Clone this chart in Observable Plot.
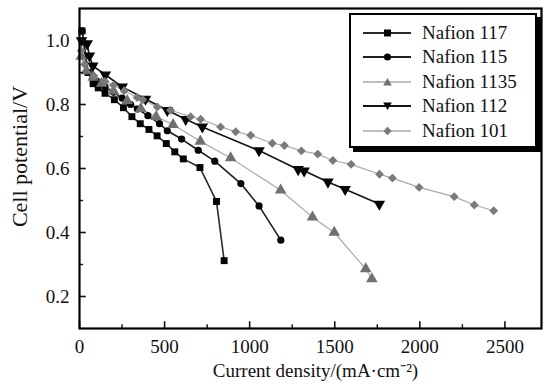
<!DOCTYPE html>
<html>
<head>
<meta charset="utf-8">
<script src="https://cdn.jsdelivr.net/npm/d3@7"></script>
<script src="https://cdn.jsdelivr.net/npm/@observablehq/plot@0.6"></script>
<style>
  body { margin: 0; background: #fff; }
  #wrap { position: relative; width: 545px; height: 386px; font-family: 'Liberation Serif', serif; }
  #wrap svg text { font-family: 'Liberation Serif', serif; }
  #legend { position: absolute; left: 349px; top: 13px; width: 184px; height: 131px; border: 2px solid #000; box-shadow: 4px 4px 0 #000; background: #fff; }
  .row { position: absolute; left: 0; height: 20px; display: flex; align-items: center; }
  .row svg { margin-left: 12px; }
  .row span { margin-left: 11px; font-size: 19px; color: #111; white-space: nowrap; font-family: 'Liberation Serif', serif; }
</style>
</head>
<body>
<div id="wrap"></div>
<script>
// ---- data ----
const seriesNames = ["Nafion 117", "Nafion 115", "Nafion 1135", "Nafion 112", "Nafion 101"];

const n117x = [15, 50, 80, 110, 150, 205, 258, 308, 357, 408, 456, 510, 560, 610, 708, 805, 850];
const n117y = [1.03, 0.90, 0.865, 0.852, 0.835, 0.815, 0.79, 0.762, 0.74, 0.722, 0.702, 0.678, 0.652, 0.63, 0.603, 0.497, 0.312];

const n115x = [15, 50, 100, 150, 200, 250, 300, 340, 402, 470, 516, 600, 698, 795, 948, 1055, 1183];
const n115y = [1.03, 0.90, 0.872, 0.855, 0.838, 0.82, 0.80, 0.786, 0.765, 0.74, 0.718, 0.692, 0.657, 0.623, 0.553, 0.483, 0.376];

const n1135x = [10, 40, 80, 130, 200, 280, 360, 450, 550, 710, 888, 1182, 1369, 1497, 1682, 1718];
const n1135y = [0.95, 0.905, 0.885, 0.866, 0.842, 0.812, 0.787, 0.762, 0.737, 0.685, 0.633, 0.532, 0.448, 0.40, 0.286, 0.255];

const n112x = [12, 45, 58, 78, 152, 251, 388, 516, 624, 722, 1055, 1285, 1320, 1460, 1561, 1762];
const n112y = [1.0, 0.99, 0.952, 0.921, 0.893, 0.855, 0.817, 0.782, 0.754, 0.73, 0.656, 0.597, 0.593, 0.558, 0.535, 0.489];

const n101x = [10, 30, 84, 150, 200, 263, 339, 372, 457, 535, 653, 712, 829, 918, 1006, 1133, 1204, 1304, 1400, 1489, 1596, 1763, 1839, 1996, 2202, 2320, 2434];
const n101y = [0.968, 0.925, 0.89, 0.872, 0.86, 0.843, 0.822, 0.815, 0.792, 0.782, 0.762, 0.754, 0.73, 0.715, 0.704, 0.679, 0.672, 0.655, 0.645, 0.625, 0.613, 0.582, 0.57, 0.541, 0.512, 0.486, 0.468];

const xTicks = [0, 500, 1000, 1500, 2000, 2500];
const xMinor = [250, 750, 1250, 1750, 2250];
const yTicks = [0.2, 0.4, 0.6, 0.8, 1.0];
const yMinor = [0.3, 0.5, 0.7, 0.9];

// ---- build table ----
const xs = [n117x, n115x, n1135x, n112x, n101x];
const ys = [n117y, n115y, n1135y, n112y, n101y];
const data = seriesNames.flatMap((s, i) => xs[i].map((x, j) => ({series: s, x, y: ys[i][j]})));

const styles = {
  "Nafion 117":  {line: "#2a2a2a", lw: 1.6, fill: "#050505", symbol: "square",   rotate: 0,   r: 3.9},
  "Nafion 115":  {line: "#1e1e1e", lw: 1.6, fill: "#050505", symbol: "circle",   rotate: 0,   r: 3.6},
  "Nafion 1135": {line: "#a8a8a8", lw: 1.2, fill: "#707070", symbol: "triangle", rotate: 0,   r: 4.3},
  "Nafion 112":  {line: "#141414", lw: 1.6, fill: "#050505", symbol: "triangle", rotate: 180, r: 4.3},
  "Nafion 101":  {line: "#a8a8a8", lw: 1.2, fill: "#7a7a7a", symbol: "diamond2", rotate: 0,   r: 4.0}
};

const FONT = "Liberation Serif";
const marks = [];
for (const s of seriesNames) {
  const d = data.filter(e => e.series === s);
  const st = styles[s];
  marks.push(Plot.line(d, {x: "x", y: "y", stroke: st.line, strokeWidth: st.lw}));
}
for (const s of seriesNames) {
  const d = data.filter(e => e.series === s);
  const st = styles[s];
  marks.push(Plot.dot(d, {x: "x", y: "y", symbol: () => st.symbol, fill: st.fill, stroke: "none", r: st.r, rotate: st.rotate}));
}

const chart = Plot.plot({
  width: 545,
  height: 386,
  marginLeft: 79,
  marginRight: 4,
  marginTop: 8,
  marginBottom: 58,
  style: {fontFamily: FONT, background: "#fff", color: "#111"},
  x: {domain: [0, 2715]},
  y: {domain: [0.1, 1.1]},
  marks: [
    ...marks,
    // inward ticks
    Plot.ruleX(xTicks, {x: d => d, y1: 0.1, y2: 0.121, stroke: "#111", strokeWidth: 1.6}),
    Plot.ruleX(xMinor, {x: d => d, y1: 0.1, y2: 0.112, stroke: "#111", strokeWidth: 1.4}),
    Plot.ruleY(yTicks, {y: d => d, x1: 0, x2: 40, stroke: "#111", strokeWidth: 1.6}),
    Plot.ruleY(yMinor, {y: d => d, x1: 0, x2: 24, stroke: "#111", strokeWidth: 1.4}),
    Plot.axisX({ticks: xTicks, tickSize: 0, tickPadding: 11, fontSize: 19, fontFamily: FONT, label: null, tickFormat: d3.format("d")}),
    Plot.axisY({ticks: yTicks, tickSize: 0, tickPadding: 10, fontSize: 19, fontFamily: FONT, label: null, tickFormat: d3.format(".1f")}),
    Plot.frame({stroke: "#000", strokeWidth: 2.2}),
    Plot.text(["Current density/(mA·cm⁻²)"], {frameAnchor: "bottom", dx: 5, dy: 48, fontSize: 19, fontFamily: FONT, fill: "#111"}),
    Plot.text(["Cell potential/V"], {frameAnchor: "left", textAnchor: "middle", lineAnchor: "middle", dx: -60, dy: -12, rotate: -90, fontSize: 22, fontFamily: FONT, fill: "#111"})
  ]
});

const wrap = document.getElementById("wrap");
wrap.appendChild(chart);

// ---- legend overlay ----
const legend = document.createElement("div");
legend.id = "legend";
const glyph = {
  "Nafion 117":  '<rect x="21" y="4.5" width="7" height="7"/>',
  "Nafion 115":  '<circle cx="24.5" cy="8" r="3.6"/>',
  "Nafion 1135": '<polygon points="24.5,4 28.8,11.5 20.2,11.5"/>',
  "Nafion 112":  '<polygon points="24.5,12 28.8,4.5 20.2,4.5"/>',
  "Nafion 101":  '<polygon points="24.5,3.8 28.7,8 24.5,12.2 20.3,8"/>'
};
seriesNames.forEach((s, i) => {
  const st = styles[s];
  const row = document.createElement("div");
  row.className = "row";
  row.style.top = (8 + i * 24.4) + "px";
  row.innerHTML = `<svg width="48" height="16"><line x1="0" y1="8" x2="48" y2="8" stroke="${st.line}" stroke-width="${st.lw + 0.2}"/><g fill="${st.fill}">${glyph[s]}</g></svg><span>${s}</span>`;
  legend.appendChild(row);
});
wrap.appendChild(legend);
</script>
</body>
</html>
